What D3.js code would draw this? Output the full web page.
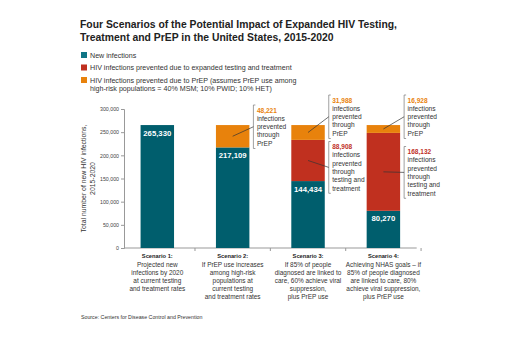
<!DOCTYPE html>
<html>
<head>
<meta charset="utf-8">
<script src="https://cdn.jsdelivr.net/npm/d3@7"></script>
<style>
  html, body { margin: 0; padding: 0; background: #fff; }
  svg text { font-family: "Liberation Sans", Arial, sans-serif; }
</style>
</head>
<body>
<div id="chart"></div>
<script>
const categories = ["Scenario 1:", "Scenario 2:", "Scenario 3:", "Scenario 4:"];
const descriptions = [
    ["Projected new", "infections by 2020", "at current testing", "and treatment rates"],
    ["If PrEP use increases", "among high-risk", "populations at", "current testing", "and treatment rates"],
    ["If 85% of people", "diagnosed are linked to", "care, 60% achieve viral", "suppression,", "plus PrEP use"],
    ["Achieving NHAS goals \u2013 if", "85% of people diagnosed", "are linked to care, 80%", "achieve viral suppression,", "plus PrEP use"]
];
const newInfections = [265330, 217109, 144434, 80270];
const preventedTesting = [0, 0, 88908, 168132];
const preventedPrep = [0, 48221, 31988, 16928];
const yTicks = [0, 50000, 100000, 150000, 200000, 250000, 300000];
const legendLabels = [
    ["New infections"],
    ["HIV infections prevented due to expanded testing and treatment"],
    ["HIV infections prevented due to PrEP (assumes PrEP use among", "high-risk populations = 40% MSM; 10% PWID; 10% HET)"]
];
const titleLines = [
    "Four Scenarios of the Potential Impact of Expanded HIV Testing,",
    "Treatment and PrEP in the United States, 2015-2020"
];
const yTitle = ["Total number of new HIV infections,", "2015-2020"];
const sourceText = "Source: Centers for Disease Control and Prevention";

const keys = ["newInf", "testing", "prep"];
const colors = { newInf: "#005e6d", testing: "#c0301f", prep: "#e8820c" };
const legendColors = ["#0f7585", "#c0301f", "#e8820c"];
const calloutText = {
    testing: ["infections", "prevented", "through", "testing and", "treatment"],
    prep: ["infections", "prevented", "through", "PrEP"]
};
// label placement (top of bracket) for each callout
const calloutTop = { prep: [null, 105, 95, 95], testing: [null, null, 141.5, 146.5] };

const width = 520, height = 346;
const fmt = d3.format(",");

const svg = d3.select("#chart").append("svg")
    .attr("width", width)
    .attr("height", height);

// pick a font size so that a sample string spans the width it has in the original
function fitSize(sample, target, weight) {
    const t = svg.append("text").attr("font-size", 10)
        .attr("font-weight", weight || "normal").text(sample);
    const w = t.node().getComputedTextLength();
    t.remove();
    return 10 * target / w;
}
const fs = {
    legend: fitSize(legendLabels[1][0], 202),
    tick: fitSize("300,000", 19),
    yTitle: fitSize(yTitle[0], 108),
    value: fitSize("265,330", 28, "bold"),
    cat: fitSize("Scenario 1:", 31, "bold"),
    desc: fitSize("and treatment rates", 56),
    callNum: fitSize("48,221", 20, "bold"),
    call: fitSize("infections", 28),
    source: fitSize(sourceText, 122)
};

// title
const title = svg.append("g").selectAll("text")
    .data(titleLines).enter().append("text")
    .attr("x", 80)
    .attr("y", (d, i) => 28 + i * 12.5)
    .attr("font-size", 11)
    .attr("font-weight", "bold")
    .attr("fill", "#222")
    .text(d => d);
// the original face is narrower, squeeze a bit
const squeeze = 317 / title.node().getComputedTextLength();
title.attr("textLength", function () { return this.getComputedTextLength() * squeeze; })
    .attr("lengthAdjust", "spacingAndGlyphs");

// legend
const legend = svg.append("g");
const legendY = [55, 67.5, 80];
legendLabels.forEach((lines, i) => {
    legend.append("rect")
        .attr("x", 81).attr("y", legendY[i] - 3)
        .attr("width", 6).attr("height", 6)
        .attr("fill", legendColors[i]);
    lines.forEach((t, j) => {
        legend.append("text")
            .attr("x", 90)
            .attr("y", legendY[i] + 2.5 + j * 8.5)
            .attr("font-size", fs.legend)
            .attr("fill", "#333")
            .text(t);
    });
});

// scales
const x = d3.scaleBand()
    .domain(categories)
    .range([124, 416.7])
    .paddingInner(0.556)
    .paddingOuter(0.22);

const y = d3.scaleLinear()
    .domain([0, 300000])
    .range([248, 109]);

const rows = categories.map((c, i) => ({
    cat: c, newInf: newInfections[i], testing: preventedTesting[i], prep: preventedPrep[i]
}));
const stacked = d3.stack().keys(keys)(rows);

// y axis
const yAxis = svg.append("g")
    .attr("transform", "translate(124,0)")
    .call(d3.axisLeft(y).tickValues(yTicks).tickSize(3).tickPadding(2).tickFormat(fmt));
yAxis.select(".domain").attr("stroke", "#999");
yAxis.selectAll(".tick line").attr("stroke", "#999");
yAxis.selectAll(".tick text")
    .attr("font-size", fs.tick)
    .attr("fill", "#444")
    .style("font-family", "\"Liberation Sans\", Arial, sans-serif");

svg.append("text")
    .attr("transform", `translate(85.5,${(y(0) + y(300000)) / 2}) rotate(-90)`)
    .attr("text-anchor", "middle")
    .attr("font-size", fs.yTitle)
    .attr("fill", "#333")
    .selectAll("tspan")
    .data(yTitle).enter().append("tspan")
    .attr("x", 0)
    .attr("dy", (d, i) => i ? 9.5 : 0)
    .text(d => d);

// x axis
const xAxis = svg.append("g");
xAxis.append("line")
    .attr("x1", x.range()[0]).attr("x2", x.range()[1])
    .attr("y1", y(0)).attr("y2", y(0))
    .attr("stroke", "#999");
const gap = x.step() - x.bandwidth();
xAxis.selectAll(".xtick")
    .data(categories).enter().append("line")
    .attr("class", "xtick")
    .attr("x1", d => x(d) + x.bandwidth() + gap / 2)
    .attr("x2", d => x(d) + x.bandwidth() + gap / 2)
    .attr("y1", y(0)).attr("y2", y(0) + 3)
    .attr("stroke", "#999");

// bars
svg.append("g").selectAll("g")
    .data(stacked).enter().append("g")
    .attr("fill", d => colors[d.key])
    .selectAll("rect")
    .data(d => d).enter().append("rect")
    .attr("x", d => x(d.data.cat))
    .attr("width", x.bandwidth())
    .attr("y", d => y(d[1]))
    .attr("height", d => y(d[0]) - y(d[1]));

// values inside teal bars
svg.append("g").selectAll("text")
    .data(rows).enter().append("text")
    .attr("x", d => x(d.cat) + x.bandwidth() / 2)
    .attr("y", d => y(d.newInf) + 10.5)
    .attr("text-anchor", "middle")
    .attr("font-size", fs.value)
    .attr("font-weight", "bold")
    .attr("fill", "#fff")
    .text(d => fmt(d.newInf));

// category labels
const catG = svg.append("g");
categories.forEach((c, i) => {
    const cx = x(c) + x.bandwidth() / 2;
    catG.append("text")
        .attr("x", cx).attr("y", 258)
        .attr("text-anchor", "middle")
        .attr("font-size", fs.cat)
        .attr("font-weight", "bold")
        .attr("fill", "#222")
        .text(c);
    descriptions[i].forEach((t, j) => {
        catG.append("text")
            .attr("x", cx).attr("y", 267 + j * 8)
            .attr("text-anchor", "middle")
            .attr("font-size", fs.desc)
            .attr("fill", "#333")
            .text(t);
    });
});

// callouts
const callG = svg.append("g");
stacked.filter(s => s.key !== "newInf").forEach(series => {
    series.forEach((d, i) => {
        const v = d[1] - d[0];
        if (!v) return;
        const lines = [fmt(v)].concat(calloutText[series.key]);
        const top = calloutTop[series.key][i];
        const bx = x(d.data.cat) + x.bandwidth() + 4;
        const lh = 8.3;
        const bottom = top + 7.5 + (lines.length - 1) * lh + 2.8;
        const mid = (top + bottom) / 2;
        callG.append("path")
            .attr("d", `M${bx + 2},${top}H${bx}V${bottom}H${bx + 2}`)
            .attr("fill", "none")
            .attr("stroke", "#777")
            .attr("stroke-width", 0.7);
        callG.append("line")
            .attr("x1", bx).attr("y1", mid)
            .attr("x2", x(d.data.cat) + x.bandwidth() / 2)
            .attr("y2", (y(d[0]) + y(d[1])) / 2)
            .attr("stroke", "#333")
            .attr("stroke-width", 0.7);
        lines.forEach((t, j) => {
            callG.append("text")
                .attr("x", bx + 3.5)
                .attr("y", top + 7.5 + j * lh)
                .attr("font-size", j ? fs.call : fs.callNum)
                .attr("font-weight", j ? "normal" : "bold")
                .attr("fill", j ? "#333" : colors[series.key])
                .text(t);
        });
    });
});

// source
svg.append("text")
    .attr("x", 81).attr("y", 319)
    .attr("font-size", fs.source)
    .attr("fill", "#333")
    .text(sourceText);
</script>
</body>
</html>
